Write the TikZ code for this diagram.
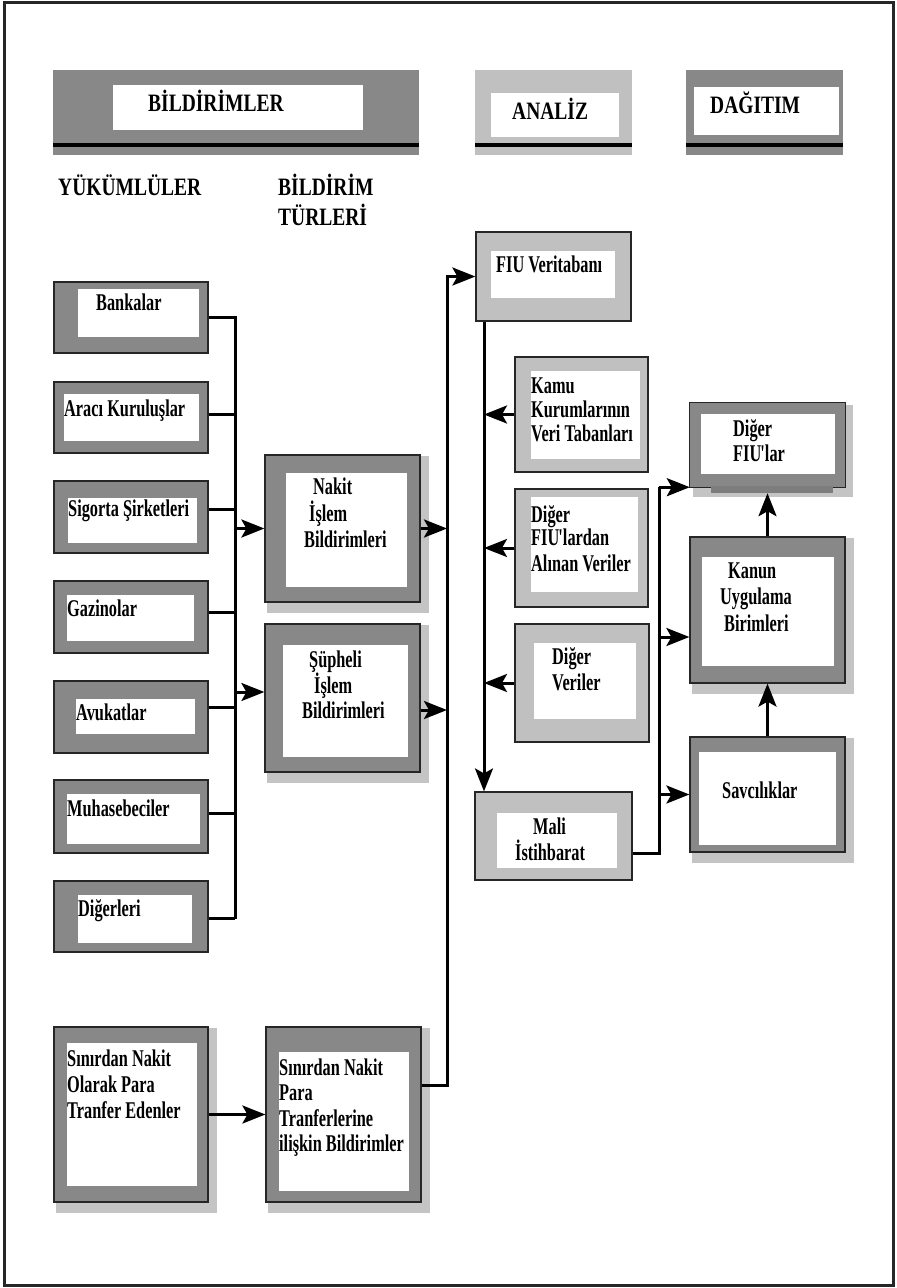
\documentclass[tikz,border=0pt]{standalone}
\usepackage{fontspec}
\newfontfamily\lblfont{Liberation Serif}[FakeStretch=0.68]
\newfontfamily\hdfont{Liberation Serif}[FakeStretch=0.78]
\usetikzlibrary{fit,arrows.meta,calc,backgrounds}
\definecolor{boxdark}{RGB}{136,136,136}
\definecolor{boxlight}{RGB}{192,192,192}
\definecolor{shadowgray}{RGB}{196,196,196}
\newcommand\apos{\kern-1pt\textquotesingle\kern-2pt}
\begin{document}
\begin{tikzpicture}[x=1pt,y=-1pt,
  dbox/.style={draw=black!85, line width=1.2pt, fill=boxdark, inner sep=0pt},
  lbox/.style={draw=black!85, line width=1.2pt, fill=boxlight, inner sep=0pt},
  wbox/.style={fill=white, inner sep=0pt},
  band/.style={inner sep=0pt},
  hd/.style={anchor=base west, inner sep=0pt, font=\hdfont\bfseries\fontsize{25}{28}\selectfont},
  lb/.style={anchor=base west, inner sep=0pt, font=\lblfont\bfseries\fontsize{24}{26}\selectfont},
  conn/.style={line width=3pt, black},
  arr/.style={line width=3pt, black, -{Stealth[length=23pt,width=18pt,inset=5pt]}},
  hline/.style={line width=3.5pt, black},
]
\useasboundingbox (0,0) rectangle (897,1288);

% ---------- header bands ----------
\node[band, fill=boxdark, fit={(53,70) (419,155)}] (hb1) {};
\node[wbox, fit={(113,85) (363,130)}] (hb1in) {};
\draw[hline] ($(hb1.south west)+(0,-10)$) -- ($(hb1.south east)+(0,-10)$);
\node[hd] (th1) at (148,111) {BİLDİRİMLER};

\node[band, fill=boxlight, fit={(475,70) (632,155)}] (hb2) {};
\node[wbox, fit={(491,93) (619,137)}] (hb2in) {};
\draw[hline] ($(hb2.south west)+(0,-10)$) -- ($(hb2.south east)+(0,-10)$);
\node[hd] (th2) at (512,119) {ANALİZ};

\node[band, fill=boxdark, fit={(686,70) (843,155)}] (hb3) {};
\node[wbox, fit={(694,87) (839,135)}] (hb3in) {};
\draw[hline] ($(hb3.south west)+(0,-10)$) -- ($(hb3.south east)+(0,-10)$);
\node[hd] (th3) at (710,113) {DAĞITIM};

\node[hd] (tyuk) at (58,195) {YÜKÜMLÜLER};
\node[hd] (tbt1) at (278,195) {BİLDİRİM};
\node[hd] (tbt2) at (278,225) {TÜRLERİ};

% ---------- left column ----------
\node[dbox, fit={(54,282) (208,353)}] (bank) {};
\node[wbox, fit={(78,289) (199,337)}] (bankin) {};
\node[lb] (tbank) at (96,310) {Bankalar};

\node[dbox, fit={(54,382) (208,453)}] (arac) {};
\node[wbox, fit={(64,394) (199,441)}] (aracin) {};
\node[lb] (tarac) at (64,416) {Aracı Kuruluşlar};

\node[dbox, fit={(54,481) (208,553)}] (sig) {};
\node[wbox, fit={(68,498) (197,543)}] (sigin) {};
\node[lb] (tsig) at (68,516) {Sigorta Şirketleri};

\node[dbox, fit={(54,581) (208,653)}] (gaz) {};
\node[wbox, fit={(67,595) (194,641)}] (gazin) {};
\node[lb] (tgaz) at (67,616) {Gazinolar};

\node[dbox, fit={(54,681) (208,753)}] (avu) {};
\node[wbox, fit={(76,699) (195,734)}] (avuin) {};
\node[lb] (tavu) at (76,720) {Avukatlar};

\node[dbox, fit={(54,780) (208,853)}] (muh) {};
\node[wbox, fit={(67,794) (200,844)}] (muhin) {};
\node[lb] (tmuh) at (67,816) {Muhasebeciler};

\node[dbox, fit={(54,881) (208,952)}] (dig) {};
\node[wbox, fit={(78,895) (192,943)}] (digin) {};
\node[lb] (tdig) at (78,916) {Diğerleri};

\node[dbox, fit={(54,1027) (208,1202)}] (sn1) {};
\node[wbox, fit={(67,1043) (197,1186)}] (sn1in) {};
\node[lb] (tsn1a) at (67,1066) {Sınırdan Nakit};
\node[lb] (tsn1b) at (67,1092) {Olarak Para};
\node[lb] (tsn1c) at (67,1118) {Tranfer Edenler};

% ---------- report types ----------
\node[dbox, fit={(265,455) (420,602)}] (nakit) {};
\node[wbox, fit={(286,473) (407,587)}] (nakitin) {};
\node[lb] (tnak1) at (313,494) {Nakit};
\node[lb] (tnak2) at (309,521) {İşlem};
\node[lb] (tnak3) at (304,547) {Bildirimleri};

\node[dbox, fit={(265,624) (420,772)}] (sup) {};
\node[wbox, fit={(283,645) (408,757)}] (supin) {};
\node[lb] (tsup1) at (309,667) {Şüpheli};
\node[lb] (tsup2) at (314,693) {İşlem};
\node[lb] (tsup3) at (302,718) {Bildirimleri};

\node[dbox, fit={(266,1027) (421,1202)}] (sn2) {};
\node[wbox, fit={(279,1052) (409,1191)}] (sn2in) {};
\node[lb] (tsn2a) at (279,1075) {Sınırdan Nakit};
\node[lb] (tsn2b) at (279,1100) {Para};
\node[lb] (tsn2c) at (279,1126) {Tranferlerine};
\node[lb] (tsn2d) at (279,1151) {ilişkin Bildirimler};

% ---------- analysis ----------
\node[lbox, fit={(476,232) (631,321)}] (fiu) {};
\node[wbox, fit={(491,251) (615,298)}] (fiuin) {};
\node[lb] (tfiu) at (496,272) {FIU Veritabanı};

\node[lbox, fit={(515,357) (648,472)}] (kamu) {};
\node[wbox, fit={(531,371) (640,459)}] (kamuin) {};
\node[lb] (tkam1) at (531,393) {Kamu};
\node[lb] (tkam2) at (531,417) {Kurumlarının};
\node[lb] (tkam3) at (531,441) {Veri Tabanları};

\node[lbox, fit={(515,489) (648,607)}] (dfd) {};
\node[wbox, fit={(531,497) (638,592)}] (dfdin) {};
\node[lb] (tdfd1) at (531,522) {Diğer};
\node[lb] (tdfd2) at (531,545) {FIU\apos lardan};
\node[lb] (tdfd3) at (531,571) {Alınan Veriler};

\node[lbox, fit={(515,624) (649,742)}] (dver) {};
\node[wbox, fit={(534,643) (636,719)}] (dverin) {};
\node[lb] (tdv1) at (552,664) {Diğer};
\node[lb] (tdv2) at (552,690) {Veriler};

\node[lbox, fit={(475,792) (632,880)}] (mali) {};
\node[wbox, fit={(497,813) (617,868)}] (maliin) {};
\node[lb] (tmal1) at (533,834) {Mali};
\node[lb] (tmal2) at (515,860) {İstihbarat};

% ---------- distribution ----------
\node[band, fill=boxdark, fit={(690,403) (845,487)}] (dfiu) {};
\node[band, fill=boxdark!92!black, fit={(711,486) (833,493)}] (dfiutab) {};
\draw[draw=black!85, line width=1.2pt] ($(dfiu.south west)+(21,0)$) -- (dfiu.south west) -- (dfiu.north west) -- (dfiu.north east) -- (dfiu.south east) -- ++(-12,0);
\node[wbox, fit={(701,414) (835,474)}] (dfiuin) {};
\node[lb] (tdf1) at (733,436) {Diğer};
\node[lb] (tdf2) at (733,461) {FIU\apos lar};

\node[dbox, fit={(690,537) (845,683)}] (kanun) {};
\node[wbox, fit={(702,557) (834,666)}] (kanunin) {};
\node[lb] (tkan1) at (728,578) {Kanun};
\node[lb] (tkan2) at (720,604) {Uygulama};
\node[lb] (tkan3) at (724,631) {Birimleri};

\node[dbox, fit={(690,737) (845,852)}] (savc) {};
\node[wbox, fit={(699,752) (836,845)}] (savcin) {};
\node[lb] (tsav) at (722,798) {Savcılıklar};

% ---------- shadows ----------
\begin{scope}[on background layer]
\foreach \n in {nakit,sup,sn1,sn2,dfiu,kanun,savc}
  \fill[shadowgray] ($(\n.north west)+(3,2)$) rectangle ($(\n.south east)+(8,10)$);
\end{scope}

% ---------- connectors ----------
\coordinate (bus) at (235,0);
\coordinate (rbus) at (447,0);
\coordinate (mbus) at (484,0);
\coordinate (dbus) at (659,0);

\draw[conn] (bank.east) -- (bank.east -| bus) -- ([yshift=-2pt]dig.east -| bus);
\draw[conn] ([yshift=3pt]arac.east) -- ([yshift=3pt]arac.east -| bus);
\draw[conn] ([yshift=8pt]sig.east) -- ([yshift=8pt]sig.east -| bus);
\draw[conn] ([yshift=5pt]gaz.east) -- ([yshift=5pt]gaz.east -| bus);
\draw[conn] ([yshift=10pt]avu.east) -- ([yshift=10pt]avu.east -| bus);
\draw[conn] ([yshift=3pt]muh.east) -- ([yshift=3pt]muh.east -| bus);
\draw[conn] ([yshift=-2pt]dig.east) -- ([yshift=-2pt]dig.east -| bus);

\draw[arr] (nakit.west -| bus) -- (nakit.west);
\draw[arr] ([yshift=6pt]sup.west -| bus) -- ([yshift=6pt]sup.west);
\draw[arr] (sn1.east) -- (sn2.west);

\draw[arr] (nakit.east) -- (nakit.east -| rbus);
\draw[arr] ([yshift=-12pt]sup.east) -- ([yshift=-12pt]sup.east -| rbus);
\draw[arr] ([yshift=29pt]sn2.east) -| (rbus |- fiu.west) -- (fiu.west);

\draw[arr] (fiu.south -| mbus) -- (mali.north -| mbus);
\draw[arr] (kamu.west) -- (kamu.west -| mbus);
\draw[arr] (dfd.west) -- (dfd.west -| mbus);
\draw[arr] (dver.west) -- (dver.west -| mbus);

\draw[conn] ([yshift=-17pt]mali.east) -| (dbus |- dfiu.south west);
\draw[arr] (dbus |- dfiu.south west) -- (dfiu.south west);
\draw[arr] ([yshift=-27pt]kanun.west -| dbus) -- ([yshift=-27pt]kanun.west);
\draw[arr] (savc.west -| dbus) -- (savc.west);
\draw[arr] (kanun.north) -- (kanun.north |- dfiutab.south);
\draw[arr] (savc.north) -- (kanun.south);

% ---------- frame ----------
\draw[line width=3pt, black!85] (4,2) rectangle (893,1285);
\end{tikzpicture}
\end{document}
